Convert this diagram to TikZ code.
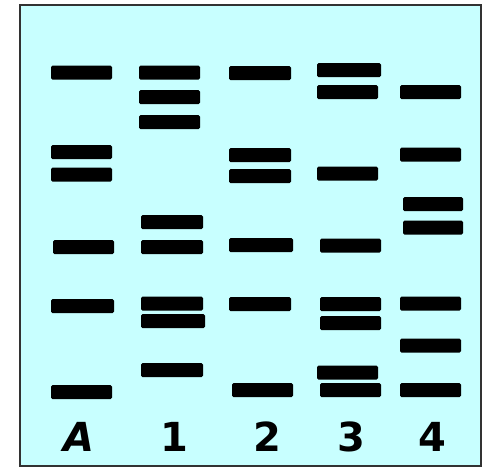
\documentclass[tikz,border=0pt]{standalone}
\usepackage{fontspec}
\setmainfont{DejaVu Sans}
\definecolor{gel}{RGB}{200,255,255}
\definecolor{frame}{RGB}{50,50,50}
\tikzset{
  gelbox/.style={fill=gel,draw=frame,line width=2pt},
  band/.style={fill=black,rounded corners=1.5pt},
  lanelabel/.style={font=\fontsize{40}{40}\selectfont\bfseries,inner sep=0pt}
}
\newcommand{\bnd}[3]{\fill[band] (#1,#3-7) rectangle (#2,#3+7);}
\begin{document}
\begin{tikzpicture}[x=1pt,y=-1pt]
\useasboundingbox (0,0) rectangle (488,467);
\draw[gelbox] (20,5) rectangle (481,466);
% lane A
\bnd{51}{112}{72.5}
\bnd{51}{112}{152}
\bnd{51}{112}{174.5}
\bnd{53}{114}{247}
\bnd{51}{114}{306}
\bnd{51}{112}{392}
% lane 1
\bnd{139}{200}{72.5}
\bnd{139}{200}{97}
\bnd{139}{200}{122}
\bnd{141}{203}{222}
\bnd{141}{203}{247}
\bnd{141}{203}{303.5}
\bnd{141}{205}{321}
\bnd{141}{203}{370}
% lane 2
\bnd{229}{291}{73}
\bnd{229}{291}{155}
\bnd{229}{291}{176}
\bnd{229}{293}{245}
\bnd{229}{291}{304}
\bnd{232}{293}{390}
% lane 3
\bnd{317}{381}{70}
\bnd{317}{378}{92}
\bnd{317}{378}{173.5}
\bnd{320}{381}{245.5}
\bnd{320}{381}{304}
\bnd{320}{381}{323}
\bnd{317}{378}{372.5}
\bnd{320}{381}{390}
% lane 4
\bnd{400}{461}{92}
\bnd{400}{461}{154.5}
\bnd{403}{463}{204}
\bnd{403}{463}{227.5}
\bnd{400}{461}{303.5}
\bnd{400}{461}{345.5}
\bnd{400}{461}{390}
% labels
\node[lanelabel] (la) at (79,437) {\itshape A};
\node[lanelabel] (l1) at (174,437) {1};
\node[lanelabel] (l2) at (267,437) {2};
\node[lanelabel] (l3) at (351,437) {3};
\node[lanelabel] (l4) at (432,437) {4};
\end{tikzpicture}
\end{document}
